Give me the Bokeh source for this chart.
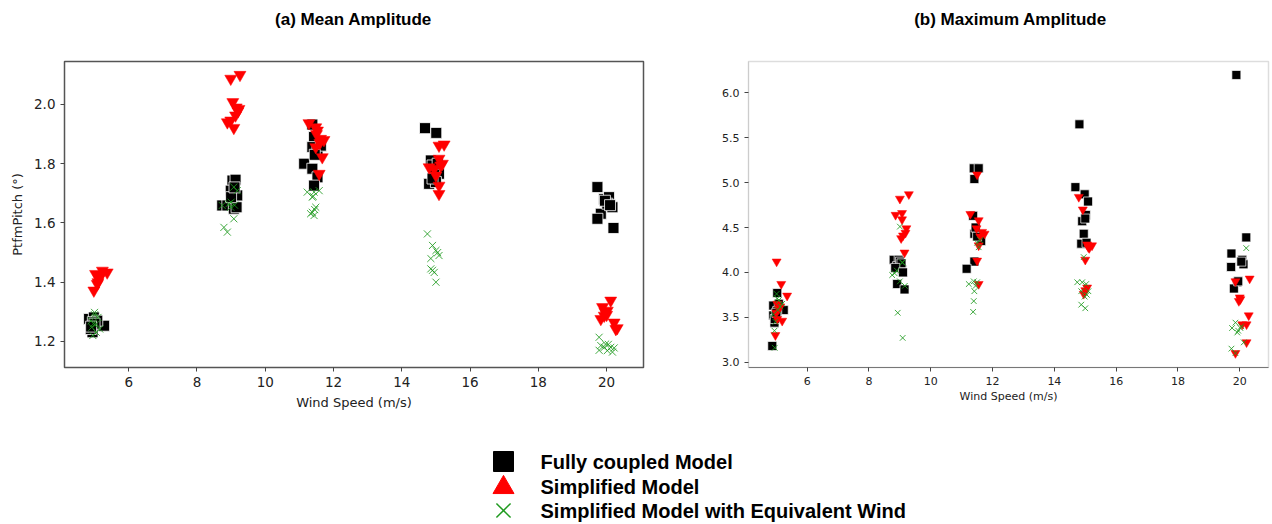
from bokeh.plotting import figure
from bokeh.layouts import column, row
from bokeh.models import Range1d, FixedTicker, NumeralTickFormatter
from bokeh.embed import file_html
from bokeh.resources import INLINE
from bokeh.core.properties import value

# ---------------- data ----------------
series_names = ["Fully coupled Model", "Simplified Model", "Simplified Model with Equivalent Wind"]
panel_titles = ["(a) Mean Amplitude", "(b) Maximum Amplitude"]

# (a) Mean amplitude
mean_full_x = [4.84, 4.98, 5.03, 5.28, 4.94, 4.89, 5.08, 4.95, 5.00, 4.90,
               9.04, 9.13, 8.99, 9.18, 8.74, 8.89, 9.08, 9.16, 9.00, 9.10,
               11.38, 11.43, 11.38, 11.53, 11.14, 11.38, 11.53, 11.43, 11.63, 11.45,
               14.68, 15.01, 14.85, 14.90, 15.09, 14.80, 15.00, 14.95, 15.05, 14.90,
               19.73, 19.93, 20.07, 20.17, 19.83, 19.73, 20.20, 20.02, 19.95, 20.10]
mean_full_y = [1.276, 1.281, 1.253, 1.253, 1.231, 1.242, 1.270, 1.265, 1.260, 1.250,
               1.743, 1.746, 1.709, 1.693, 1.659, 1.659, 1.648, 1.653, 1.687, 1.720,
               1.932, 1.890, 1.856, 1.845, 1.800, 1.783, 1.754, 1.726, 1.861, 1.830,
               1.920, 1.904, 1.811, 1.794, 1.766, 1.732, 1.738, 1.777, 1.800, 1.750,
               1.721, 1.681, 1.687, 1.653, 1.631, 1.614, 1.583, 1.665, 1.675, 1.660]

mean_simp_x = [5.03, 5.23, 5.37, 5.13, 5.08, 4.98, 5.18, 5.10,
               8.99, 9.26, 9.05, 9.20, 9.23, 8.89, 8.99, 9.08, 9.13, 9.15,
               11.28, 11.48, 11.53, 11.62, 11.72, 11.48, 11.67, 11.58, 11.50, 11.60,
               15.09, 15.24, 15.09, 15.14, 14.80, 15.00, 15.09, 15.09, 14.95, 15.19,
               20.12, 19.88, 20.02, 19.93, 19.83, 20.22, 20.27, 20.31, 19.95, 20.00]
mean_simp_y = [1.428, 1.439, 1.433, 1.411, 1.394, 1.372, 1.422, 1.400,
               2.087, 2.100, 2.008, 1.977, 1.985, 1.940, 1.946, 1.921, 1.963, 1.990,
               1.937, 1.923, 1.912, 1.884, 1.880, 1.856, 1.822, 1.766, 1.900, 1.870,
               1.861, 1.865, 1.817, 1.794, 1.788, 1.760, 1.726, 1.698, 1.783, 1.800,
               1.338, 1.316, 1.304, 1.287, 1.276, 1.264, 1.242, 1.245, 1.300, 1.290]

mean_eqw_x = [5.00, 4.90, 5.05, 5.15, 4.95, 5.05, 4.92, 5.10, 5.00, 4.97,
              9.08, 9.18, 8.94, 8.74, 8.99, 9.08, 8.79, 8.89, 9.00, 9.10,
              11.23, 11.43, 11.58, 11.38, 11.48, 11.38, 11.43, 11.33, 11.45, 11.40,
              14.75, 14.90, 15.00, 15.09, 14.85, 14.95, 15.00, 14.85, 15.05, 14.90,
              19.78, 19.83, 19.97, 20.12, 20.02, 19.78, 19.93, 20.22, 20.17, 20.05]
mean_eqw_y = [1.298, 1.270, 1.259, 1.242, 1.220, 1.231, 1.248, 1.281, 1.290, 1.260,
              1.721, 1.709, 1.665, 1.659, 1.653, 1.614, 1.585, 1.569, 1.670, 1.660,
              1.704, 1.704, 1.709, 1.687, 1.653, 1.636, 1.625, 1.631, 1.645, 1.690,
              1.563, 1.524, 1.507, 1.490, 1.445, 1.433, 1.400, 1.480, 1.500, 1.440,
              1.214, 1.186, 1.191, 1.180, 1.169, 1.170, 1.180, 1.178, 1.164, 1.190]

# (b) Maximum amplitude
max_full_x = [5.03, 4.90, 5.08, 5.24, 4.90, 4.94, 4.87, 5.03, 4.95, 5.00,
              8.80, 8.96, 8.91, 9.07, 8.91, 9.15, 9.00, 9.05, 8.85, 9.10,
              11.39, 11.55, 11.41, 11.37, 11.41, 11.63, 11.41, 11.16, 11.50, 11.45,
              14.81, 14.68, 14.98, 15.09, 15.02, 14.90, 14.95, 14.87, 15.04, 15.00,
              19.89, 20.21, 19.73, 20.08, 20.12, 19.72, 19.92, 19.81, 20.05, 19.95]
max_full_y = [3.77, 3.63, 3.65, 3.58, 3.52, 3.44, 3.18, 3.57, 3.48, 3.55,
              4.14, 4.14, 4.07, 4.03, 3.87, 3.81, 4.12, 4.10, 4.05, 4.00,
              5.16, 5.16, 5.04, 4.63, 4.43, 4.35, 4.12, 4.04, 4.40, 4.50,
              5.65, 4.95, 4.87, 4.79, 4.64, 4.57, 4.43, 4.32, 4.33, 4.60,
              6.20, 4.39, 4.21, 4.14, 4.09, 4.06, 3.89, 3.82, 4.12, 3.90]

max_simp_x = [5.01, 5.16, 5.35, 5.03, 5.08, 5.19, 5.03, 4.97, 5.13, 5.00,
              9.29, 9.00, 8.86, 9.07, 9.07, 9.21, 9.18, 9.04, 9.10, 9.15,
              11.50, 11.28, 11.55, 11.48, 11.66, 11.74, 11.55, 11.50, 11.55, 11.60,
              14.79, 14.92, 15.06, 15.22, 15.13, 15.00, 15.06, 14.95, 15.10, 15.00,
              20.32, 19.86, 20.02, 19.97, 20.29, 20.08, 20.22, 20.22, 19.86, 20.00]
max_simp_y = [4.12, 3.87, 3.74, 3.65, 3.59, 3.46, 3.48, 3.30, 3.62, 3.55,
              4.87, 4.82, 4.64, 4.66, 4.59, 4.49, 4.44, 4.38, 4.41, 4.22,
              5.09, 4.65, 4.58, 4.49, 4.45, 4.43, 4.30, 4.13, 3.87, 4.40,
              4.84, 4.70, 4.31, 4.30, 4.27, 4.14, 3.83, 3.76, 4.28, 3.80,
              3.93, 3.90, 3.70, 3.68, 3.52, 3.42, 3.42, 3.22, 3.10, 3.72]

max_eqw_x = [5.01, 5.08, 5.19, 4.90, 4.94, 4.95, 5.03, 5.13, 4.97, 5.05,
             9.00, 9.07, 8.83, 8.75, 9.09, 9.16, 8.93, 9.09, 9.00, 8.90,
             11.50, 11.60, 11.39, 11.23, 11.41, 11.39, 11.37, 11.50, 11.45, 11.55,
             14.95, 14.74, 14.90, 15.03, 14.87, 15.10, 14.98, 14.87, 15.00, 15.05,
             20.21, 19.86, 19.75, 20.02, 19.92, 20.13, 19.73, 19.86, 20.05, 19.95]
max_eqw_y = [3.76, 3.69, 3.65, 3.53, 3.35, 3.16, 3.71, 3.62, 3.45, 3.58,
             4.51, 4.11, 3.99, 3.97, 4.11, 3.85, 3.55, 3.27, 3.90, 4.02,
             4.33, 4.36, 3.90, 3.87, 3.79, 3.68, 3.56, 3.89, 3.85, 4.28,
             4.17, 3.89, 3.89, 3.87, 3.79, 3.79, 3.73, 3.64, 3.60, 3.75,
             4.27, 3.44, 3.38, 3.38, 3.33, 3.22, 3.15, 3.10, 3.40, 3.35]

x_ticks = [6, 8, 10, 12, 14, 16, 18, 20]
mean_y_ticks = [1.2, 1.4, 1.6, 1.8, 2.0]
max_y_ticks = [3.0, 3.5, 4.0, 4.5, 5.0, 5.5, 6.0]

BLACK = "black"
RED = "#ff0000"
GREEN = "#1f9a1f"
TICK_FONT = "DejaVu Sans"
TITLE_FONT = "Liberation Sans"
HEADER_H = 40


def bare(p):
    p.axis.visible = False
    p.grid.visible = False
    p.outline_line_color = None


def style_axes(p, tick_size, label_size):
    for ax in (p.xaxis[0], p.yaxis[0]):
        ax.major_label_text_font = TICK_FONT
        ax.major_label_text_font_size = tick_size
        ax.major_label_text_color = "#222222"
        ax.axis_label_text_font = TICK_FONT
        ax.axis_label_text_font_size = label_size
        ax.axis_label_text_font_style = "normal"
        ax.axis_label_text_color = "#222222"
        ax.minor_tick_line_color = None
        ax.major_tick_out = 4
        ax.major_tick_in = 0
        ax.major_tick_line_color = "#444444"
        ax.axis_line_color = "#555555"
    p.yaxis[0].formatter = NumeralTickFormatter(format="0.0")
    p.grid.visible = False


# ---------------- header with the two panel titles ----------------
header = figure(width=1272, height=HEADER_H, output_backend="svg", toolbar_location=None,
                x_range=Range1d(0, 1272), y_range=Range1d(HEADER_H, 0),
                min_border_left=0, min_border_right=0, min_border_top=0, min_border_bottom=0)
bare(header)
header.text(x=[353, 1010], y=[19, 19], text=panel_titles,
            text_font=value(TITLE_FONT), text_font_size="17px", text_font_style="bold",
            text_baseline="middle", text_align="center", text_color="black")

# ---------------- panel (a) ----------------
p1 = figure(width=690, height=430 - HEADER_H, output_backend="svg", toolbar_location=None,
            x_range=Range1d(4.12, 21.08), y_range=Range1d(1.112, 2.145),
            min_border_left=64, min_border_right=47, min_border_top=61 - HEADER_H,
            min_border_bottom=63)
p1.outline_line_color = "#555555"
p1.outline_line_width = 1.5
p1.xaxis.axis_label = "Wind Speed (m/s)"
p1.yaxis.axis_label = "PtfmPitch (°)"
p1.xaxis.ticker = FixedTicker(ticks=x_ticks)
p1.yaxis.ticker = FixedTicker(ticks=mean_y_ticks)
style_axes(p1, "13.5px", "13px")
p1.xaxis.axis_label_standoff = 5
p1.yaxis.axis_label_standoff = 6

p1.scatter(mean_full_x, mean_full_y, marker="square", size=11, fill_color=BLACK,
           line_color="white", line_width=0.8)
p1.scatter(mean_simp_x, mean_simp_y, marker="inverted_triangle", size=12, fill_color=RED,
           line_color=RED, line_width=0.5)
p1.scatter(mean_eqw_x, mean_eqw_y, marker="x", size=10, line_color=GREEN, line_width=1,
           line_alpha=0.85)

# ---------------- panel (b) ----------------
p2 = figure(width=582, height=430 - HEADER_H, output_backend="svg", toolbar_location=None,
            x_range=Range1d(4.1, 20.93), y_range=Range1d(2.94, 6.35),
            min_border_left=58, min_border_right=4, min_border_top=59 - HEADER_H,
            min_border_bottom=63)
p2.outline_line_color = "#dddddd"
p2.outline_line_width = 1.5
p2.xaxis.axis_label = "Wind Speed (m/s)"
p2.xaxis.ticker = FixedTicker(ticks=x_ticks)
p2.yaxis.ticker = FixedTicker(ticks=max_y_ticks)
style_axes(p2, "11px", "11px")
p2.yaxis.axis_line_color = "#cccccc"
p2.xaxis.axis_line_color = "#777777"
p2.xaxis.axis_label_standoff = 2

p2.scatter(max_full_x, max_full_y, marker="square", size=9, fill_color=BLACK,
           line_color="white", line_width=0.7)
p2.scatter(max_simp_x, max_simp_y, marker="inverted_triangle", size=9, fill_color=RED,
           line_color=RED, line_width=0.5)
p2.scatter(max_eqw_x, max_eqw_y, marker="x", size=8, line_color=GREEN, line_width=1,
           line_alpha=0.85)

# ---------------- legend strip ----------------
leg = figure(width=1272, height=94, output_backend="svg", toolbar_location=None,
             x_range=Range1d(0, 1272), y_range=Range1d(94, 0),
             min_border_left=0, min_border_right=0, min_border_top=0, min_border_bottom=0)
bare(leg)

rows_y = [31, 56, 80]
leg.scatter([503], [rows_y[0]], marker="square", size=20, fill_color=BLACK, line_color=BLACK)
leg.scatter([503], [rows_y[1] + 1], marker="triangle", size=21, fill_color=RED, line_color=RED)
leg.scatter([503], [rows_y[2]], marker="x", size=20, line_color=GREEN, line_width=1.5)
leg.text(x=[540, 540, 540], y=rows_y, text=series_names,
         text_font=value(TITLE_FONT), text_font_size="20px", text_font_style="bold",
         text_baseline="middle", text_align="left", text_color="black")

layout = column(header, row(p1, p2), leg)
open("out.html", "w").write(file_html(layout, INLINE))
